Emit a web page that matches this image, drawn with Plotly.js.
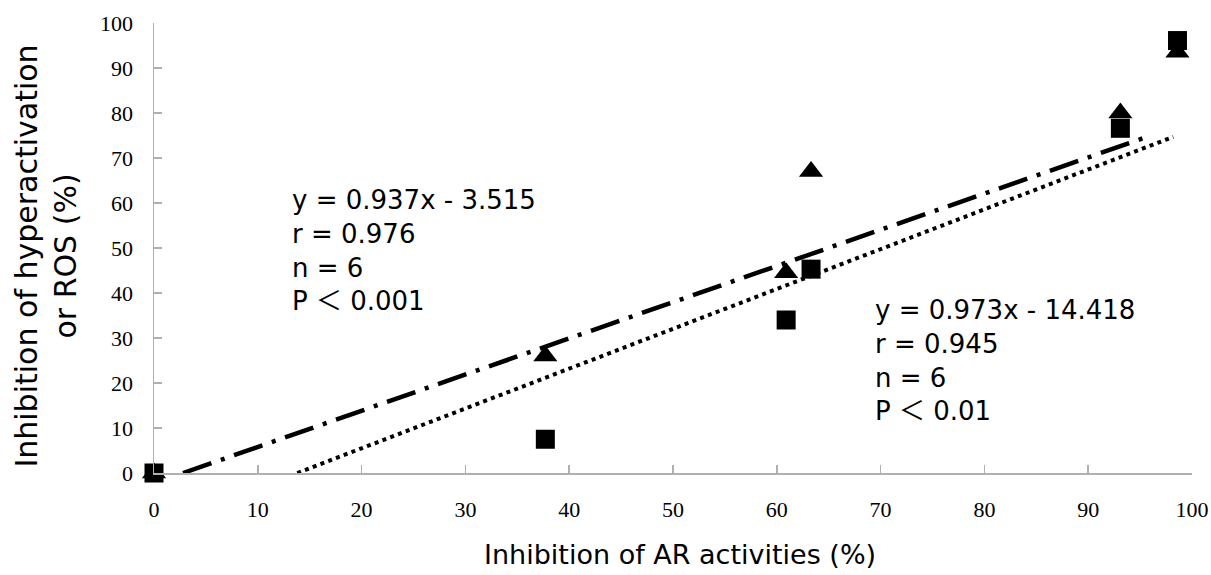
<!DOCTYPE html>
<html>
<head>
<meta charset="utf-8">
<script src="https://cdn.plot.ly/plotly-3.0.1.min.js"></script>
<style>html,body{margin:0;padding:0;background:#fff;}#chart{width:1211px;height:575px;}</style>
</head>
<body>
<div id="chart"></div>
<script>
// Inhibition of AR activities (%) for the six samples
const arInhibition = [0, 37.7, 60.9, 63.3, 93.1, 98.6];
// triangle series
const triangleValues = [0, 26, 44.5, 67, 80, 93.5];
// square series
const squareValues = [0, 7.5, 34, 45.3, 76.6, 96.1];
// trend lines as drawn (end points)
const trendTriangleX = [2.8, 95.8];
const trendTriangleY = [0, 74.8];
const trendSquareX = [13.8, 98.2];
const trendSquareY = [0, 74.7];
// tick labels
const tickValues = [0, 10, 20, 30, 40, 50, 60, 70, 80, 90, 100];
const tickLabels = ['0', '10', '20', '30', '40', '50', '60', '70', '80', '90', '100'];
// texts
const statsTriangle = ['y = 0.937x - 3.515', 'r = 0.976', 'n = 6', 'P \uFF1C 0.001'];
const statsSquare = ['y = 0.973x - 14.418', 'r = 0.945', 'n = 6', 'P \uFF1C 0.01'];
const xTitle = 'Inhibition of AR activities (%)';
const yTitleLines = ['Inhibition of hyperactivation', 'or ROS (%)'];

const textFont = 'DejaVu Sans, Noto Sans CJK JP, sans-serif';

const traces = [
  {
    x: arInhibition, y: triangleValues, type: 'scatter', mode: 'markers',
    marker: {symbol: 'triangle-up', size: 21, color: '#000'},
    cliponaxis: false, showlegend: false, hoverinfo: 'x+y'
  },
  {
    x: arInhibition, y: squareValues, type: 'scatter', mode: 'markers',
    marker: {symbol: 'square', size: 19, color: '#000'},
    cliponaxis: false, showlegend: false, hoverinfo: 'x+y'
  },
  {
    x: trendTriangleX, y: trendTriangleY, type: 'scatter', mode: 'lines',
    line: {color: '#000', width: 4.5, dash: '30px,10px,4px,10px'},
    cliponaxis: false, showlegend: false, hoverinfo: 'skip'
  },
  {
    x: trendSquareX, y: trendSquareY, type: 'scatter', mode: 'lines',
    line: {color: '#000', width: 4, dash: '4px,4.3px'},
    cliponaxis: false, showlegend: false, hoverinfo: 'skip'
  }
];

const axisCommon = {
  range: [0, 100], tickmode: 'array', tickvals: tickValues, ticktext: tickLabels,
  showgrid: false, zeroline: false, showline: true, linecolor: '#b0b0b0', linewidth: 1.5,
  ticks: 'inside', ticklen: 8, tickwidth: 1.5, tickcolor: '#b0b0b0',
  tickfont: {family: 'Liberation Serif, Times New Roman, serif', size: 22, color: '#000'},
  fixedrange: true
};

const layout = {
  width: 1211, height: 575, autosize: false,
  margin: {l: 154, r: 19, t: 23, b: 102, pad: 0},
  paper_bgcolor: '#fff', plot_bgcolor: '#fff',
  xaxis: Object.assign({}, axisCommon, {ticklabelstandoff: 16}),
  yaxis: Object.assign({}, axisCommon, {ticklabelstandoff: 15}),
  annotations: [
    {
      xref: 'x', yref: 'y', x: 13.1, y: 49.4, xanchor: 'left', yanchor: 'middle',
      text: statsTriangle.join('<br>'), align: 'left', showarrow: false,
      font: {family: textFont, size: 26, color: '#000'}
    },
    {
      xref: 'x', yref: 'y', x: 69.3, y: 25.0, xanchor: 'left', yanchor: 'middle',
      text: statsSquare.join('<br>'), align: 'left', showarrow: false,
      font: {family: textFont, size: 26, color: '#000'}
    },
    {
      xref: 'paper', yref: 'paper', x: 0.5067, y: -0.182, xanchor: 'center', yanchor: 'middle',
      text: xTitle, showarrow: false,
      font: {family: textFont, size: 27, color: '#000'}
    },
    {
      xref: 'paper', yref: 'paper', x: -0.104, y: 0.481, xanchor: 'center', yanchor: 'middle',
      text: yTitleLines.join('<br>'), textangle: -90, showarrow: false,
      font: {family: textFont, size: 30, color: '#000'}
    }
  ]
};

Plotly.newPlot('chart', traces, layout, {staticPlot: true, displayModeBar: false});
</script>
</body>
</html>
